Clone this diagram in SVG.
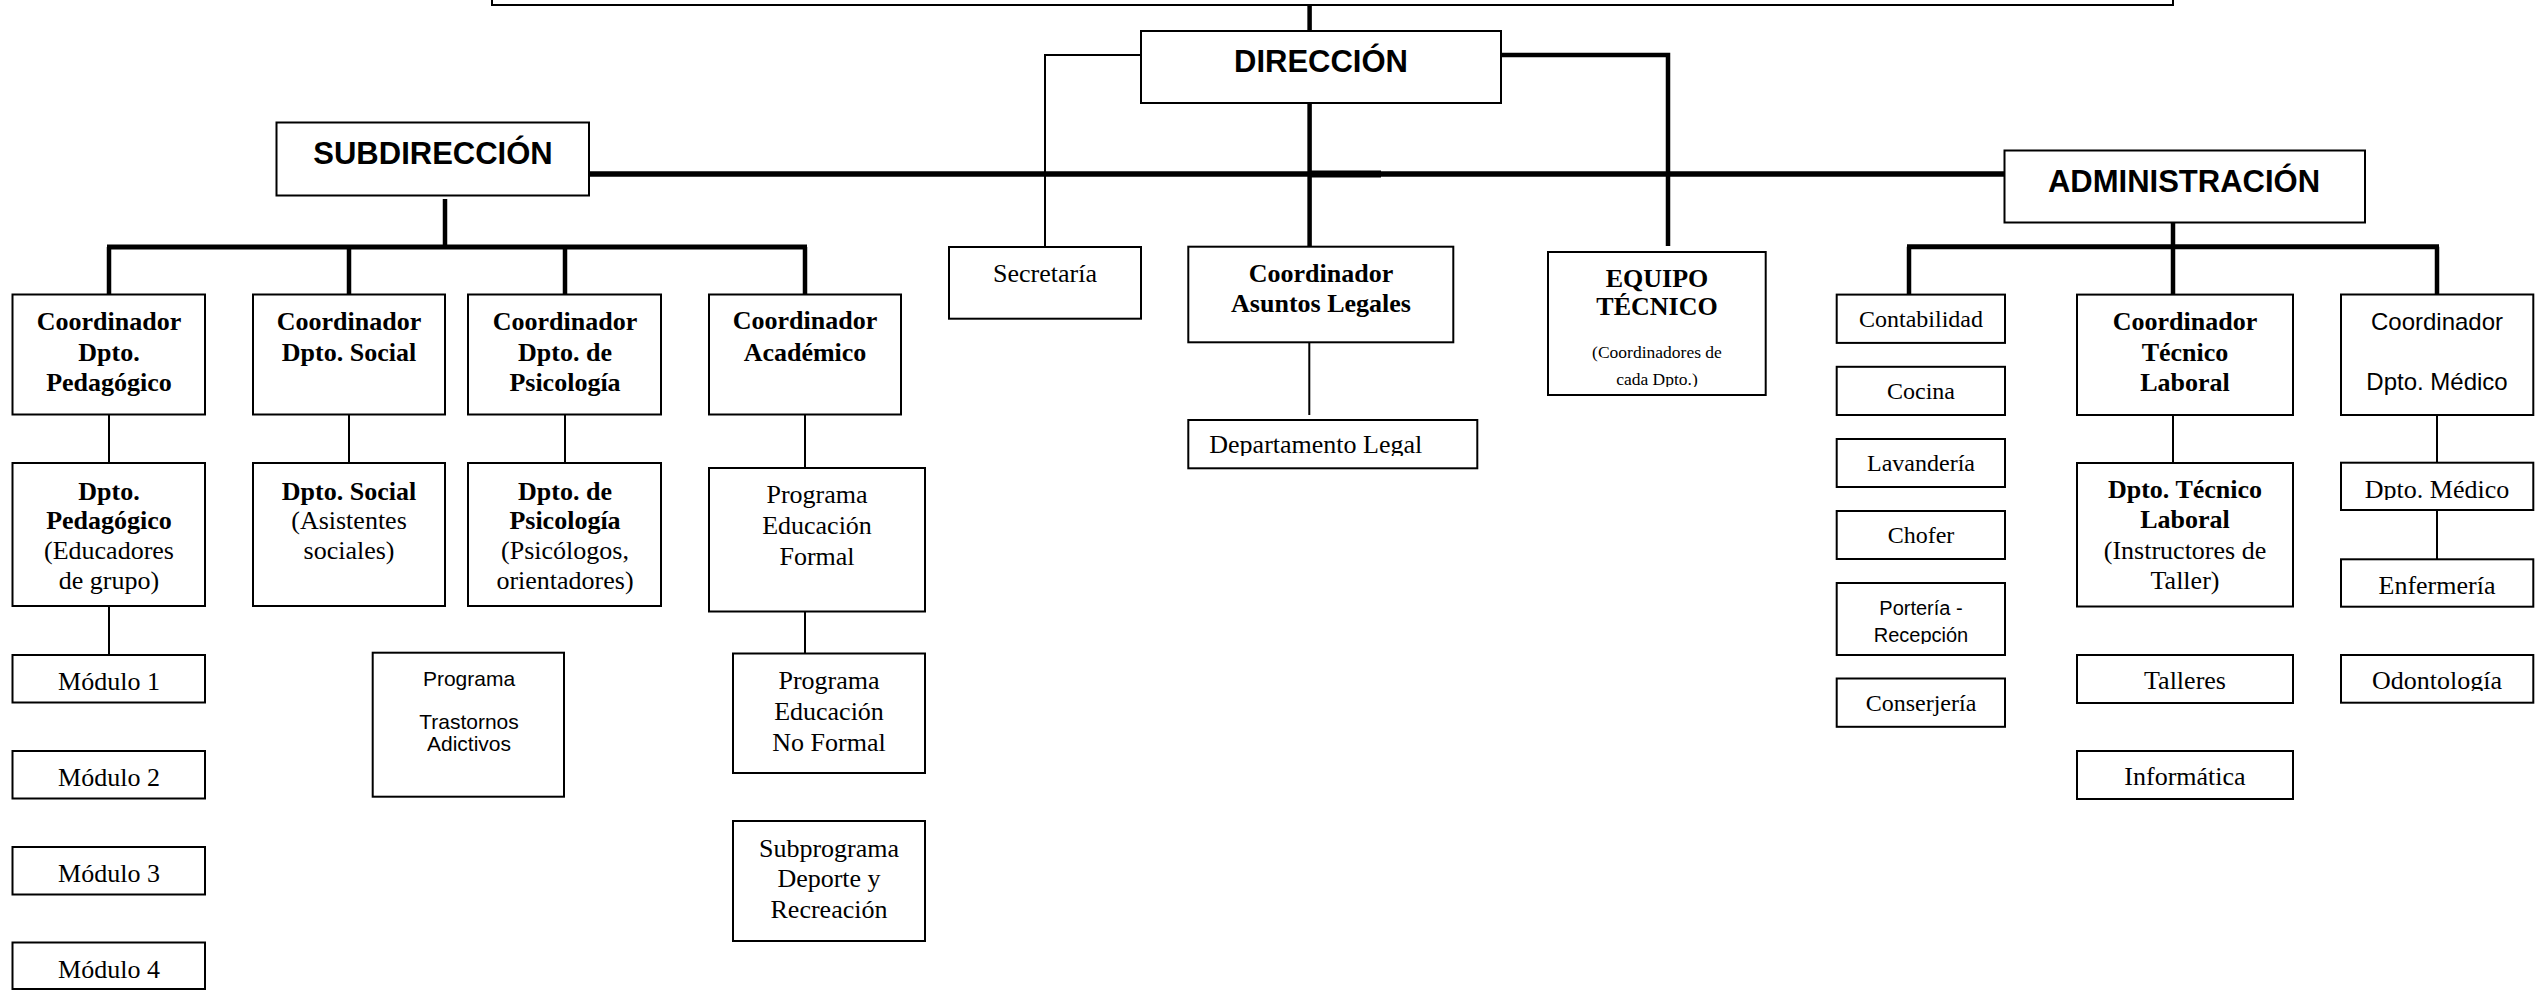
<svg xmlns="http://www.w3.org/2000/svg" width="2548" height="990" viewBox="0 0 2548 990">
<style>
.box{fill:#fff;stroke:#000;stroke-width:2}
.tb{font-family:"Liberation Serif","Times New Roman",serif;font-weight:bold;font-size:26px;text-anchor:middle;fill:#000}
.tr{font-family:"Liberation Serif","Times New Roman",serif;font-size:26px;text-anchor:middle;fill:#000}
.t24{font-family:"Liberation Serif","Times New Roman",serif;font-size:24px;text-anchor:middle;fill:#000}
.tsm{font-family:"Liberation Serif","Times New Roman",serif;font-size:17.5px;text-anchor:middle;fill:#000}
.hb{font-family:"Liberation Sans",Arial,sans-serif;font-weight:bold;font-size:31px;text-anchor:middle;fill:#000}
.sn{font-family:"Liberation Sans",Arial,sans-serif;font-size:21px;text-anchor:middle;fill:#000}
.sm{font-family:"Liberation Sans",Arial,sans-serif;font-size:24px;text-anchor:middle;fill:#000}
.thick{fill:none;stroke:#000;stroke-width:4.5;stroke-linejoin:miter}
.thin{fill:none;stroke:#000;stroke-width:2}
</style>
<defs>
<clipPath id="cLeg"><rect x="1190" y="420" width="286" height="36"/></clipPath>
<clipPath id="cMed"><rect x="2342" y="463" width="190" height="37"/></clipPath>
<clipPath id="cOdo"><rect x="2342" y="656" width="190" height="35"/></clipPath>
<clipPath id="cRec"><rect x="1838" y="584" width="166" height="60"/></clipPath>
<clipPath id="cEq"><rect x="1550" y="253" width="214" height="134"/></clipPath>
</defs>
<rect width="2548" height="990" fill="#fff"/>

<g id="connectors">
<path class="thick" d="M1309.6,4 V31"/>
<path class="thick" d="M1309.6,102.7 V246.7"/>
<path class="thick" d="M1501,55 H1668 V246"/>
<path class="thick" style="stroke-width:5.3" d="M589,174 H2004.5"/>
<rect x="1310" y="170.5" width="71" height="7" fill="#000"/>
<path class="thin" d="M1141,55 H1045 V247"/>
<path class="thick" d="M445,199 V247"/>
<path class="thick" style="stroke-width:5" d="M107,247 H807"/>
<path class="thick" d="M109,247 V294.5 M349,247 V294.5 M565,247 V294.5 M805,247 V294.5"/>
<path class="thick" d="M2173,222.7 V246.7"/>
<path class="thick" style="stroke-width:5" d="M1907,246.7 H2439"/>
<path class="thick" d="M1909,246.7 V294.5 M2173,246.7 V294.5 M2437,246.7 V294.5"/>
<path class="thin" d="M109,414.5 V463 M109,606 V655 M349,414.5 V463 M565,414.5 V463 M805,414.7 V468 M805,605.7 V653.5 M1309.3,342.3 V415 M2173,415 V463 M2437,415 V462.7 M2437,510 V559.3"/>
</g>

<g id="top"><rect class="box" x="492" y="-10" width="1681" height="15"/></g>

<g id="direccion"><rect class="box" x="1141" y="31" width="360" height="72"/><text class="hb" x="1321" y="72">DIRECCIÓN</text></g>
<g id="subdireccion"><rect class="box" x="276.5" y="122.5" width="312.5" height="73"/><text class="hb" x="433" y="164">SUBDIRECCIÓN</text></g>
<g id="administracion"><rect class="box" x="2004.5" y="150.5" width="360.5" height="72"/><text class="hb" x="2184" y="192">ADMINISTRACIÓN</text></g>

<g id="coord-pedagogico"><rect class="box" x="12.5" y="294.5" width="192.5" height="120"/>
<text class="tb" x="109" y="330">Coordinador</text><text class="tb" x="109" y="361">Dpto.</text><text class="tb" x="109" y="391">Pedagógico</text></g>
<g id="coord-social"><rect class="box" x="253" y="294.5" width="192" height="120"/>
<text class="tb" x="349" y="330">Coordinador</text><text class="tb" x="349" y="361">Dpto. Social</text></g>
<g id="coord-psicologia"><rect class="box" x="468" y="294.5" width="193" height="120"/>
<text class="tb" x="565" y="330">Coordinador</text><text class="tb" x="565" y="361">Dpto. de</text><text class="tb" x="565" y="391">Psicología</text></g>
<g id="coord-academico"><rect class="box" x="709" y="294.5" width="192" height="120"/>
<text class="tb" x="805" y="329">Coordinador</text><text class="tb" x="805" y="361">Académico</text></g>

<g id="dpto-pedagogico"><rect class="box" x="12.5" y="463" width="192.5" height="143"/>
<text class="tb" x="109" y="500">Dpto.</text><text class="tb" x="109" y="529">Pedagógico</text><text class="tr" x="109" y="558.5">(Educadores</text><text class="tr" x="109" y="589">de grupo)</text></g>
<g id="dpto-social"><rect class="box" x="253" y="463" width="192" height="143"/>
<text class="tb" x="349" y="500">Dpto. Social</text><text class="tr" x="349" y="529">(Asistentes</text><text class="tr" x="349" y="559">sociales)</text></g>
<g id="dpto-psicologia"><rect class="box" x="468" y="463" width="193" height="143"/>
<text class="tb" x="565" y="500">Dpto. de</text><text class="tb" x="565" y="529">Psicología</text><text class="tr" x="565" y="558.5">(Psicólogos,</text><text class="tr" x="565" y="589">orientadores)</text></g>

<g id="modulo1"><rect class="box" x="12.5" y="655" width="192.5" height="47.5"/><text class="tr" x="109" y="690">Módulo 1</text></g>
<g id="modulo2"><rect class="box" x="12.5" y="751" width="192.5" height="47.5"/><text class="tr" x="109" y="786">Módulo 2</text></g>
<g id="modulo3"><rect class="box" x="12.5" y="847" width="192.5" height="47.5"/><text class="tr" x="109" y="882">Módulo 3</text></g>
<g id="modulo4"><rect class="box" x="12.5" y="942.5" width="192.5" height="46.5"/><text class="tr" x="109" y="978">Módulo 4</text></g>

<g id="programa-trastornos"><rect class="box" x="372.7" y="652.7" width="191.3" height="144"/>
<text class="sn" x="469" y="686">Programa</text><text class="sn" x="469" y="728.5">Trastornos</text><text class="sn" x="469" y="750.5">Adictivos</text></g>

<g id="programa-formal"><rect class="box" x="709" y="468" width="216" height="143.5"/>
<text class="tr" x="817" y="503">Programa</text><text class="tr" x="817" y="534">Educación</text><text class="tr" x="817" y="564.5">Formal</text></g>
<g id="programa-no-formal"><rect class="box" x="733" y="653.5" width="192" height="119.5"/>
<text class="tr" x="829" y="688.5">Programa</text><text class="tr" x="829" y="719.6">Educación</text><text class="tr" x="829" y="751">No Formal</text></g>
<g id="subprograma"><rect class="box" x="733" y="821" width="192" height="120"/>
<text class="tr" x="829" y="856.7">Subprograma</text><text class="tr" x="829" y="886.8">Deporte y</text><text class="tr" x="829" y="918">Recreación</text></g>

<g id="secretaria"><rect class="box" x="949" y="247" width="192" height="71.7"/><text class="tr" x="1045" y="282">Secretaría</text></g>
<g id="coord-legales"><rect class="box" x="1188.3" y="246.7" width="265" height="95.6"/>
<text class="tb" x="1321" y="281.7">Coordinador</text><text class="tb" x="1321" y="311.7">Asuntos Legales</text></g>
<g id="dpto-legal"><rect class="box" x="1188.3" y="420" width="289" height="48.3"/>
<text class="tr" x="1209.3" y="453.3" style="text-anchor:start" clip-path="url(#cLeg)">Departamento Legal</text></g>

<g id="equipo-tecnico"><rect class="box" x="1548" y="252" width="217.7" height="143"/>
<text class="tb" x="1657" y="286.7">EQUIPO</text><text class="tb" x="1657" y="315">TÉCNICO</text>
<text class="tsm" x="1657" y="358.3">(Coordinadores de</text><text class="tsm" x="1657" y="385" clip-path="url(#cEq)">cada Dpto.)</text></g>

<g id="contabilidad"><rect class="box" x="1836.7" y="294.6" width="168.3" height="48.3"/><text class="t24" x="1921" y="327">Contabilidad</text></g>
<g id="cocina"><rect class="box" x="1836.7" y="366.8" width="168.3" height="48.2"/><text class="t24" x="1921" y="399">Cocina</text></g>
<g id="lavanderia"><rect class="box" x="1836.7" y="439" width="168.3" height="48"/><text class="t24" x="1921" y="471">Lavandería</text></g>
<g id="chofer"><rect class="box" x="1836.7" y="511" width="168.3" height="48"/><text class="t24" x="1921" y="543">Chofer</text></g>
<g id="porteria"><rect class="box" x="1836.7" y="583" width="168.3" height="72"/>
<text class="sn" style="font-size:20px" x="1921" y="615">Portería -</text><text class="sn" style="font-size:20px" x="1921" y="642.3" clip-path="url(#cRec)">Recepción</text></g>
<g id="conserjeria"><rect class="box" x="1836.7" y="678.5" width="168.3" height="48.3"/><text class="t24" x="1921" y="710.5">Conserjería</text></g>

<g id="coord-tecnico"><rect class="box" x="2077" y="294.6" width="216" height="120.4"/>
<text class="tb" x="2185" y="330">Coordinador</text><text class="tb" x="2185" y="360.5">Técnico</text><text class="tb" x="2185" y="391">Laboral</text></g>
<g id="dpto-tecnico"><rect class="box" x="2077" y="463" width="216" height="143.5"/>
<text class="tb" x="2185" y="498">Dpto. Técnico</text><text class="tb" x="2185" y="528">Laboral</text><text class="tr" x="2185" y="558.6">(Instructores de</text><text class="tr" x="2185" y="589">Taller)</text></g>
<g id="talleres"><rect class="box" x="2077" y="655" width="216" height="48"/><text class="tr" x="2185" y="689.3">Talleres</text></g>
<g id="informatica"><rect class="box" x="2077" y="751" width="216" height="48"/><text class="tr" x="2185" y="785">Informática</text></g>

<g id="coord-medico"><rect class="box" x="2341" y="294.5" width="192.3" height="120.5"/>
<text class="sm" x="2437" y="330">Coordinador</text><text class="sm" x="2437" y="390">Dpto. Médico</text></g>
<g id="dpto-medico"><rect class="box" x="2341" y="462.7" width="192.3" height="47.3"/><text class="tr" x="2437" y="498.3" clip-path="url(#cMed)">Dpto. Médico</text></g>
<g id="enfermeria"><rect class="box" x="2341" y="559.3" width="192.3" height="47.4"/><text class="tr" x="2437" y="594.3">Enfermería</text></g>
<g id="odontologia"><rect class="box" x="2341" y="655" width="192.3" height="47.7"/><text class="tr" x="2437" y="689.3" clip-path="url(#cOdo)">Odontología</text></g>
</svg>
